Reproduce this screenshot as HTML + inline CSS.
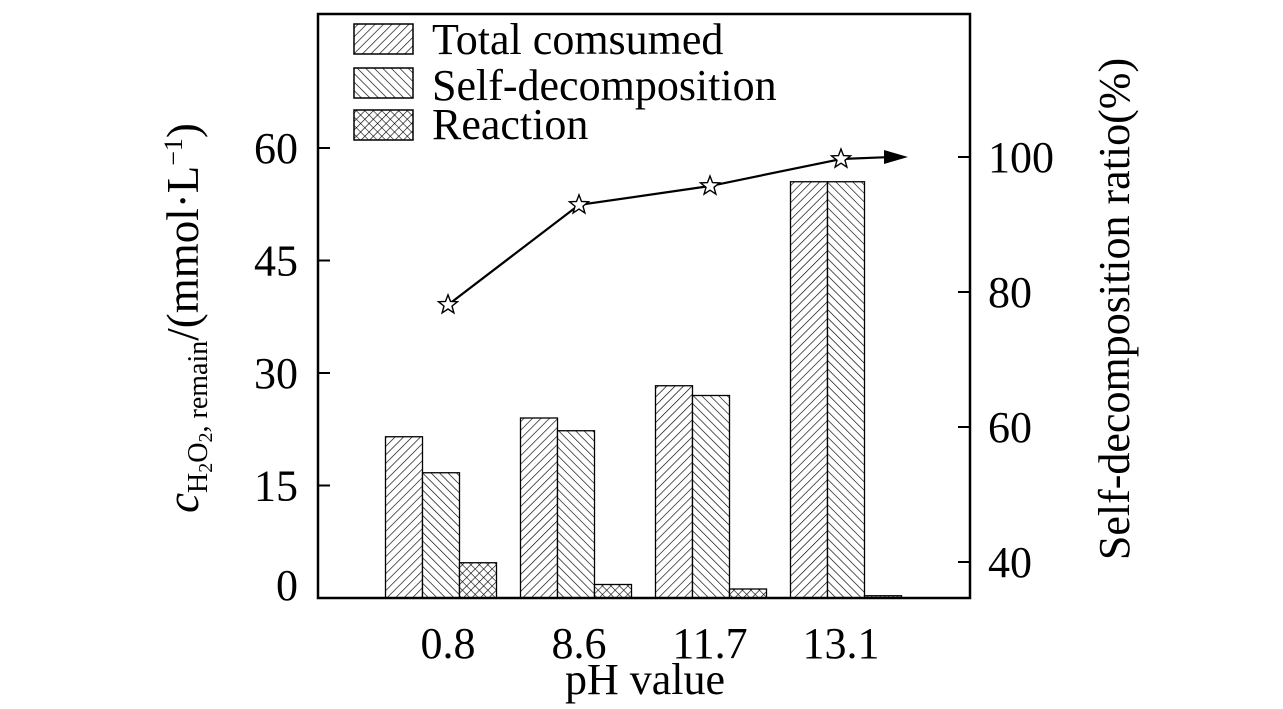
<!DOCTYPE html>
<html><head><meta charset="utf-8"><style>
html,body{margin:0;padding:0;background:#fff;}
svg{display:block;font-family:"Liberation Serif",serif;}
</style></head><body>
<svg id="chart" width="1283" height="709" viewBox="0 0 1283 709">
<defs>
<pattern id="hFwd" patternUnits="userSpaceOnUse" width="6" height="6" patternTransform="rotate(45)"><rect width="6" height="6" fill="#fff"/><line x1="0" y1="0" x2="0" y2="6" stroke="#000" stroke-width="1.3"/></pattern>
<pattern id="hBack" patternUnits="userSpaceOnUse" width="6" height="6" patternTransform="rotate(-45)"><rect width="6" height="6" fill="#fff"/><line x1="0" y1="0" x2="0" y2="6" stroke="#000" stroke-width="1.3"/></pattern>
<pattern id="hCross" patternUnits="userSpaceOnUse" width="6" height="6" patternTransform="rotate(45)"><rect width="6" height="6" fill="#fff"/><line x1="0" y1="0" x2="0" y2="6" stroke="#000" stroke-width="1.2"/><line x1="0" y1="0" x2="6" y2="0" stroke="#000" stroke-width="1.2"/></pattern>
</defs>
<g id="bars"></g>
<g id="line"></g>
<rect x="318" y="14" width="652" height="584" fill="none" stroke="#000" stroke-width="2.5"/>
<g id="axes"></g>
<g>
<rect x="354" y="24" width="59" height="30" fill="url(#hFwd)" stroke="#000" stroke-width="1.5"/>
<text x="432" y="54" font-size="44">Total comsumed</text>
<rect x="354" y="68" width="59" height="30" fill="url(#hBack)" stroke="#000" stroke-width="1.5"/>
<text x="432" y="100" font-size="44">Self-decomposition</text>
<rect x="354" y="110" width="59" height="30" fill="url(#hCross)" stroke="#000" stroke-width="1.5"/>
<text x="432" y="139" font-size="44">Reaction</text>
</g>
<text x="645" y="694" font-size="44" text-anchor="middle">pH value</text>
<text transform="translate(198,318) rotate(-90)" font-size="45" text-anchor="middle"><tspan font-style="italic">c</tspan><tspan font-size="28" dy="9">H</tspan><tspan font-size="20" dy="5">2</tspan><tspan font-size="28" dy="-5">O</tspan><tspan font-size="20" dy="5">2</tspan><tspan font-size="28" dy="-5">, remain</tspan><tspan dy="-9">/(mmol·L</tspan><tspan font-size="26" dy="-16">−1</tspan><tspan dy="16">)</tspan></text>
<text transform="translate(1129,309) rotate(-90)" font-size="44" text-anchor="middle">Self-decomposition ratio(%)</text>
</svg>
<script>
const categories = ["0.8", "8.6", "11.7", "13.1"];
const totalConsumed = [21.5, 24.0, 28.3, 55.5];
const selfDecomposition = [16.7, 22.3, 27.0, 55.5];
const reaction = [4.7, 1.8, 1.2, 0.3];
const selfRatio = [78.1, 92.9, 95.7, 99.7];
const leftTicks = [0, 15, 30, 45, 60];
const rightTicks = [40, 60, 80, 100];

const NS = "http://www.w3.org/2000/svg";
function yL(v){ return 598 - v * 7.5; }
function yR(v){ return 157 + (100 - v) * 6.75; }
function groupCenter(i){ return 441 + i * 135; }
function labelX(i){ return 448 + i * 131; }
function mk(tag, attrs, parent){ const e = document.createElementNS(NS, tag); for (const k in attrs) e.setAttribute(k, attrs[k]); parent.appendChild(e); return e; }

const bars = document.getElementById('bars');
const series = [[totalConsumed, 'hFwd', 'bar-total'], [selfDecomposition, 'hBack', 'bar-self'], [reaction, 'hCross', 'bar-reaction']];
const bw = 37;
categories.forEach((c, i) => {
  series.forEach((s, j) => {
    const v = s[0][i];
    const x = groupCenter(i) - 1.5 * bw + j * bw;
    const r = mk('rect', {x: x, y: yL(v), width: bw, height: 598 - yL(v), fill: 'url(#' + s[1] + ')', stroke: '#000', 'stroke-width': 1.3}, bars);
    
    
  });
});

const line = document.getElementById('line');
const pts = selfRatio.map((v, i) => [labelX(i), yR(v)]);
const pl = mk('polyline', {points: pts.map(p => p.join(',')).join(' '), fill: 'none', stroke: '#000', 'stroke-width': 2.2}, line);


const last = pts[pts.length - 1];
const ar = mk('line', {x1: last[0], y1: last[1], x2: last[0] + 50, y2: 157, stroke: '#000', 'stroke-width': 2.2}, line);


const ah = mk('polygon', {points: (last[0]+67)+',157 '+(last[0]+43)+',150 '+(last[0]+43)+',164', fill: '#000'}, line);


function star(cx, cy, R){ let p = []; for (let k = 0; k < 10; k++){ const a = -Math.PI/2 + k * Math.PI/5; const rr = k % 2 ? R * 0.42 : R; p.push((cx + rr * Math.cos(a)).toFixed(1) + ',' + (cy + rr * Math.sin(a)).toFixed(1)); } return p.join(' '); }
pts.forEach((p, i) => {
  const s = mk('polygon', {points: star(p[0], p[1], 10), fill: '#fff', stroke: '#000', 'stroke-width': 1.4}, line);
  
  
});

const axes = document.getElementById('axes');
leftTicks.forEach(t => {
  const l = mk('line', {x1: 318, y1: yL(t), x2: 330, y2: yL(t), stroke: '#000', 'stroke-width': 2}, axes);
  
  
  const tx = mk('text', {x: 298, y: yL(t) + 15 - (t === 0 ? 13 : 0), 'font-size': 44, 'text-anchor': 'end'}, axes);
  tx.textContent = t;
  
  
});
rightTicks.forEach(t => {
  const l = mk('line', {x1: 958, y1: yR(t), x2: 970, y2: yR(t), stroke: '#000', 'stroke-width': 2}, axes);
  
  
  const tx = mk('text', {x: 988, y: yR(t) + 15, 'font-size': 44}, axes);
  tx.textContent = t;
  
  
});
categories.forEach((c, i) => {
  const tx = mk('text', {x: labelX(i), y: 658, 'font-size': 44, 'text-anchor': 'middle'}, axes);
  tx.textContent = c;
  
  
});
</script>
</body></html>
